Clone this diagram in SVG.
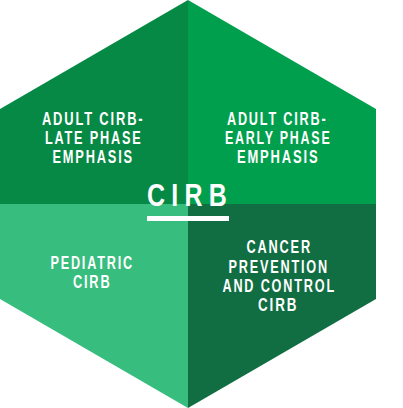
<svg xmlns="http://www.w3.org/2000/svg" width="403" height="408" viewBox="0 0 403 408">
<style>
.lbl{font-family:"Liberation Sans",Arial,sans-serif;font-weight:bold;font-size:17.5px;fill:#fff;text-anchor:middle;letter-spacing:2.5px}
.title{font-family:"Liberation Sans",Arial,sans-serif;font-weight:bold;font-size:32px;fill:#fff;text-anchor:middle;letter-spacing:8px}
</style>
<rect width="403" height="408" fill="#fff"/>
<g id="adult-late">
<polygon points="188,0 188,204 0,204 0,109" fill="#068945"/>
<text class="lbl" x="93.2" y="125.3" textLength="102.5" lengthAdjust="spacingAndGlyphs">ADULT CIRB-</text>
<text class="lbl" x="93.7" y="144.3" textLength="97.5" lengthAdjust="spacingAndGlyphs">LATE PHASE</text>
<text class="lbl" x="93.2" y="163.3" textLength="81.5" lengthAdjust="spacingAndGlyphs">EMPHASIS</text>
</g>
<g id="adult-early">
<polygon points="188,0 376,109 376,204 188,204" fill="#009F4D"/>
<text class="lbl" x="277.2" y="125.3" textLength="100.5" lengthAdjust="spacingAndGlyphs">ADULT CIRB-</text>
<text class="lbl" x="278.2" y="144.3" textLength="106.5" lengthAdjust="spacingAndGlyphs">EARLY PHASE</text>
<text class="lbl" x="278.2" y="163.3" textLength="82.5" lengthAdjust="spacingAndGlyphs">EMPHASIS</text>
</g>
<g id="pediatric">
<polygon points="0,204 188,204 188,408 0,299" fill="#37BD7E"/>
<text class="lbl" x="92.2" y="269" textLength="83.5" lengthAdjust="spacingAndGlyphs">PEDIATRIC</text>
<text class="lbl" x="92.2" y="287.7" textLength="38.5" lengthAdjust="spacingAndGlyphs">CIRB</text>
</g>
<g id="cancer">
<polygon points="188,204 376,204 376,299 188,408" fill="#106E42"/>
<text class="lbl" x="279.2" y="253.3" textLength="65.5" lengthAdjust="spacingAndGlyphs">CANCER</text>
<text class="lbl" x="278.7" y="272.7" textLength="100.5" lengthAdjust="spacingAndGlyphs">PREVENTION</text>
<text class="lbl" x="279.2" y="292.3" textLength="113.5" lengthAdjust="spacingAndGlyphs">AND CONTROL</text>
<text class="lbl" x="278.2" y="311" textLength="40.5" lengthAdjust="spacingAndGlyphs">CIRB</text>
</g>
<g id="cirb">
<text class="title" x="190" y="206" textLength="86" lengthAdjust="spacingAndGlyphs">CIRB</text>
<rect x="147" y="216" width="82" height="5" fill="#fff"/>
</g>
</svg>
